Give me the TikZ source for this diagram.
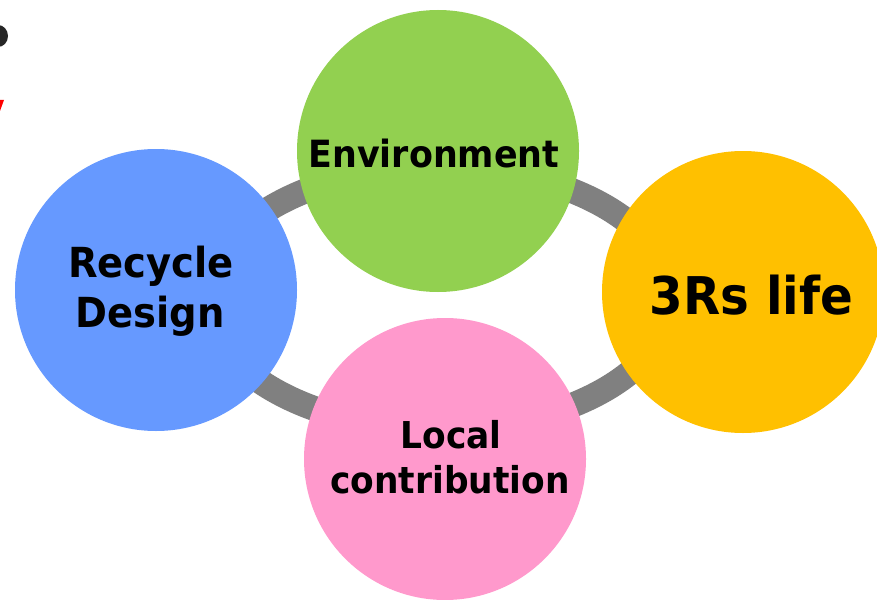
\documentclass[tikz,border=0pt]{standalone}
\usepackage{fontspec}
\setmainfont{DejaVu Sans}[FakeStretch=0.93]
\definecolor{cgreen}{HTML}{92D050}
\definecolor{cblue}{HTML}{6699FF}
\definecolor{corange}{HTML}{FFC000}
\definecolor{cpink}{HTML}{FF99CC}
\definecolor{cring}{HTML}{808080}
\definecolor{cdark}{HTML}{262626}
\begin{document}
\begin{tikzpicture}[x=1pt,y=-1pt,
  ball/.style={circle,inner sep=0pt,minimum size=282pt,draw=none},
  lbl/.style={anchor=base,inner sep=0pt,text=black,font=\bfseries\fontsize{#1}{#1}\selectfont},
  ring/.style={draw=cring,line width=25pt}]
\useasboundingbox (0,0) rectangle (877,599);
\clip (0,0) rectangle (877,599);
\fill[white] (0,0) rectangle (877,599);
% cut-off fragments at top left
\fill[cdark] (-2,36) ellipse [x radius=10, y radius=11];
\fill[red] (0,100) -- (4,100) -- (0,111) -- cycle;
% ring
\draw[ring] (439,298) ellipse [x radius=232, y radius=131];
% circles
\node[ball,fill=cgreen]  (env)   at (438,151) {};
\node[ball,fill=cblue]   (rec)   at (156,290) {};
\node[ball,fill=corange] (three) at (743,292) {};
\node[ball,fill=cpink]   (loc)   at (445,459) {};
% labels
\node[lbl=37.5] (envt) at (434,167) {Environment};
\node[lbl=41.4] (rect1) at (151,277) {Recycle};
\node[lbl=41.4] (rect2) at (150,327) {Design};
\node[lbl=37] (loct1) at (451,448) {Local};
\node[lbl=37] (loct2) at (450,493) {contribution};
\node[lbl=52] (threet) at (751.5,314) {3Rs life};
\end{tikzpicture}
\end{document}
